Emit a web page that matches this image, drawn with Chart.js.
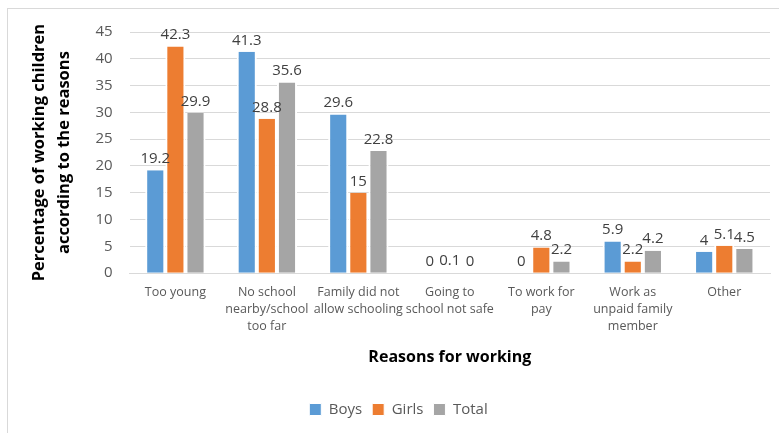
<!DOCTYPE html>
<html lang="en">
<head>
    <meta charset="UTF-8">
    <title>Reasons for working</title>
    <script src="https://cdn.jsdelivr.net/npm/chart.js"></script>
    <style>
        html, body {
            margin: 0;
            padding: 0;
            background: #fff;
        }
        #wrap {
            position: absolute;
            left: 7px;
            top: 8px;
            width: 780px;
            height: 430px;
            border: 1px solid #d9d9d9;
            box-sizing: border-box;
        }
        #box {
            position: absolute;
            left: 0;
            top: 0;
            width: 779px;
            height: 433px;
        }
    </style>
</head>
<body>
    <div id="wrap"></div>
    <div id="box"><canvas id="reasonsChart"></canvas></div>

    <script>
        // chart data
        const categories = [
            'Too young',
            ['No school', 'nearby/school', 'too far'],
            ['Family did not', 'allow schooling'],
            ['Going to', 'school not safe'],
            ['To work for', 'pay'],
            ['Work as', 'unpaid family', 'member'],
            'Other'
        ];
        const boys = [19.2, 41.3, 29.6, 0, 0, 5.9, 4];
        const girls = [42.3, 28.8, 15, 0.1, 4.8, 2.2, 5.1];
        const total = [29.9, 35.6, 22.8, 0, 2.2, 4.2, 4.5];

        const font = "'Open Sans', 'Liberation Sans', sans-serif";

        // draws the value above every bar
        const valueLabels = {
            id: 'valueLabels',
            afterDatasetsDraw(chart) {
                const ctx = chart.ctx;
                ctx.save();
                ctx.font = '15px ' + font;
                ctx.fillStyle = '#404040';
                ctx.textAlign = 'center';
                ctx.textBaseline = 'bottom';
                chart.data.datasets.forEach((ds, i) => {
                    chart.getDatasetMeta(i).data.forEach((bar, j) => {
                        ctx.fillText(String(ds.data[j]), bar.x, bar.y - 4);
                    });
                });
                ctx.restore();
            }
        };

        const barStyle = {
            borderColor: '#ffffff',
            borderWidth: { left: 2, right: 2, top: 0, bottom: 0 },
            borderSkipped: false,
            categoryPercentage: 0.66,
            barPercentage: 1.0
        };

        new Chart(document.getElementById('reasonsChart'), {
            type: 'bar',
            data: {
                labels: categories,
                datasets: [
                    Object.assign({ label: 'Boys', data: boys, backgroundColor: '#5b9bd5' }, barStyle),
                    Object.assign({ label: 'Girls', data: girls, backgroundColor: '#ed7d31' }, barStyle),
                    Object.assign({ label: 'Total', data: total, backgroundColor: '#a5a5a5' }, barStyle)
                ]
            },
            options: {
                responsive: true,
                maintainAspectRatio: false,
                animation: false,
                layout: {
                    padding: { left: 27, right: 9, top: 32, bottom: 6 }
                },
                plugins: {
                    legend: {
                        position: 'bottom',
                        labels: {
                            boxWidth: 12,
                            boxHeight: 12,
                            padding: 10,
                            color: '#595959',
                            font: { family: font, size: 15 }
                        }
                    },
                    tooltip: { enabled: false }
                },
                scales: {
                    x: {
                        grid: { display: false },
                        border: { color: '#d9d9d9' },
                        ticks: {
                            color: '#595959',
                            maxRotation: 0,
                            autoSkip: false,
                            font: { family: font, size: 12.5, lineHeight: 1.35 }
                        },
                        title: {
                            display: true,
                            text: 'Reasons for working',
                            color: '#000',
                            padding: { top: 10, bottom: 25 },
                            font: { family: font, size: 16, weight: 'bold' }
                        }
                    },
                    y: {
                        min: 0,
                        max: 45,
                        ticks: {
                            stepSize: 5,
                            padding: 17,
                            color: '#595959',
                            font: { family: font, size: 15 }
                        },
                        grid: { color: '#d9d9d9', drawTicks: false },
                        border: { display: false },
                        title: {
                            display: true,
                            text: ['Percentage of working children', 'according to the reasons'],
                            color: '#000',
                            padding: { top: 0, bottom: 2 },
                            font: { family: font, size: 16.5, weight: 'bold', lineHeight: 1.5 }
                        }
                    }
                }
            },
            plugins: [valueLabels]
        });
    </script>
</body>
</html>
